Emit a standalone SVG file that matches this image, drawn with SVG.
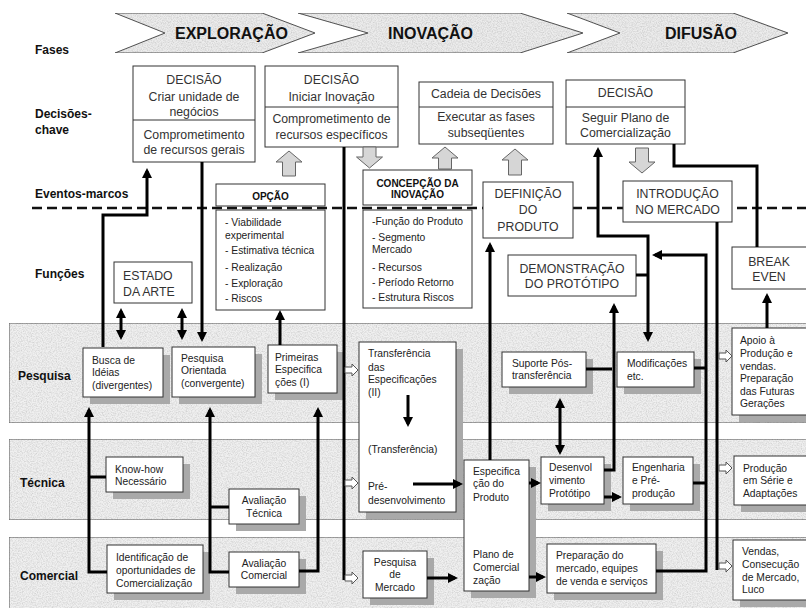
<svg xmlns="http://www.w3.org/2000/svg" width="806" height="608" viewBox="0 0 806 608">
<style>
.bg{fill:#fff}
.chev{fill:#ececec;stroke:#555;stroke-width:1}
.lane{fill:#f0f0f0;stroke:#6e6e6e;stroke-width:1.2}
.box{fill:#fff;stroke:#333;stroke-width:1}
.sh{fill:#a9a9a9}
.t{font-family:"Liberation Sans",Arial,sans-serif;font-size:10.3px;fill:#222}
.tm{font-family:"Liberation Sans",Arial,sans-serif;font-size:12.3px;fill:#333}
.tb{font-family:"Liberation Sans",Arial,sans-serif;font-size:10px;font-weight:bold;fill:#111}
.lbl{font-family:"Liberation Sans",Arial,sans-serif;font-size:12px;font-weight:bold;fill:#111}
.ph{font-family:"Liberation Sans",Arial,sans-serif;font-size:16px;font-weight:bold;fill:#111}
.mid{text-anchor:middle}
.c{fill:none;stroke:#000;stroke-width:3}
.ba{fill:#d6d6d6;stroke:#666;stroke-width:1}
.ha{fill:#fff;stroke:#555;stroke-width:1}
.dash{stroke:#111;stroke-width:2.5;stroke-dasharray:10 5;fill:none}
</style>
<defs>
<marker id="ah" viewBox="0 0 10 10" refX="7" refY="5" markerWidth="10" markerHeight="10" markerUnits="userSpaceOnUse" orient="auto-start-reverse"><path d="M0,0 L10,5 L0,10 Z" fill="#000"/></marker>
<filter id="tex" x="0" y="0" width="1" height="1">
<feTurbulence type="fractalNoise" baseFrequency="0.8" numOctaves="2" seed="7" result="n"/>
<feColorMatrix in="n" type="matrix" values="0 0 0 0 0  0 0 0 0 0  0 0 0 0 0  0.55 0 0 0 -0.2" result="a"/>
<feComposite in="a" in2="SourceGraphic" operator="in" result="s"/>
<feMerge><feMergeNode in="SourceGraphic"/><feMergeNode in="s"/></feMerge>
</filter>
</defs>
<rect class="bg" x="0" y="0" width="806" height="608"/>

<g id="phases">
<path class="chev" filter="url(#tex)" d="M115,13 L262,13 L315,33 L262,53 L115,53 L165,33 Z"/>
<path class="chev" filter="url(#tex)" d="M298,13 L520,13 L583,33 L520,53 L298,53 L368,33 Z"/>
<path class="chev" filter="url(#tex)" d="M567,13 L733,13 L788,33 L733,53 L567,53 L620,33 Z"/>
<text class="ph" x="175" y="39">EXPLORAÇÃO</text>
<text class="ph" x="388" y="39">INOVAÇÃO</text>
<text class="ph" x="665" y="39">DIFUSÃO</text>
</g>

<g id="row-labels">
<text class="lbl" x="35" y="54">Fases</text>
<text class="lbl" x="35" y="118">Decisões-</text>
<text class="lbl" x="35" y="134">chave</text>
<text class="lbl" x="35" y="198">Eventos-marcos</text>
<text class="lbl" x="35" y="278">Funções</text>
</g>

<line class="dash" x1="32" y1="208" x2="806" y2="208"/>

<g id="lanes">
<rect class="lane" filter="url(#tex)" x="9" y="323" width="800" height="100"/>
<rect class="lane" filter="url(#tex)" x="9" y="439" width="800" height="81"/>
<rect class="lane" filter="url(#tex)" x="9" y="537" width="800" height="72"/>
<text class="lbl" x="18" y="380">Pesquisa</text>
<text class="lbl" x="20" y="487">Técnica</text>
<text class="lbl" x="20" y="580">Comercial</text>
</g>

<g id="dec1"><rect class="box" x="133" y="66" width="122" height="96"/><line x1="133" y1="120" x2="255" y2="120" stroke="#333"/>
<text class="tm mid" x="194" y="84">DECISÃO</text><text class="tm mid" x="194" y="101">Criar unidade de</text><text class="tm mid" x="194" y="116">negócios</text>
<text class="tm mid" x="194" y="139">Comprometimento</text><text class="tm mid" x="194" y="154">de recursos gerais</text></g>

<g id="dec2"><rect class="box" x="265" y="66" width="133" height="81"/><line x1="265" y1="107" x2="398" y2="107" stroke="#333"/>
<text class="tm mid" x="331.5" y="84">DECISÃO</text><text class="tm mid" x="331.5" y="101">Iniciar Inovação</text>
<text class="tm mid" x="331.5" y="123">Comprometimento de</text><text class="tm mid" x="331.5" y="139">recursos específicos</text></g>

<g id="dec3"><rect class="box" x="419" y="82" width="134" height="62"/><line x1="419" y1="107" x2="553" y2="107" stroke="#333"/>
<text class="tm mid" x="486" y="98">Cadeia de Decisões</text>
<text class="tm mid" x="486" y="121">Executar as fases</text><text class="tm mid" x="486" y="137">subseqüentes</text></g>

<g id="dec4"><rect class="box" x="566" y="80" width="119" height="64"/><line x1="566" y1="107" x2="685" y2="107" stroke="#333"/>
<text class="tm mid" x="625.5" y="97">DECISÃO</text>
<text class="tm mid" x="625.5" y="122">Seguir Plano de</text><text class="tm mid" x="625.5" y="137">Comercialização</text></g>

<g id="block-arrows">
<path class="ba" d="M289,151 L302,162 L295.5,162 L295.5,176 L282.5,176 L282.5,162 L276,162 Z"/>
<path class="ba" d="M369.5,168 L382.5,157 L376,157 L376,147 L363,147 L363,157 L356.5,157 Z"/>
<path class="ba" d="M445,147 L458,158 L451.5,158 L451.5,169 L438.5,169 L438.5,158 L432,158 Z"/>
<path class="ba" d="M515,149 L528,160 L521.5,160 L521.5,175 L508.5,175 L508.5,160 L502,160 Z"/>
<path class="ba" d="M642,173 L655,162 L648.5,162 L648.5,148 L635.5,148 L635.5,162 L629,162 Z"/>
</g>

<g id="opcao"><rect class="box" x="216" y="184" width="109" height="22"/><text class="tb mid" x="270.5" y="200">OPÇÃO</text>
<rect class="box" x="216" y="210" width="109" height="100"/>
<text class="t" x="225" y="226">- Viabilidade</text><text class="t" x="225" y="239">experimental</text><text class="t" x="225" y="254">- Estimativa técnica</text><text class="t" x="225" y="271">- Realização</text><text class="t" x="225" y="287">- Exploração</text><text class="t" x="225" y="302">- Riscos</text></g>

<g id="concepcao"><rect class="box" x="363" y="170" width="109" height="35"/><text class="tb mid" x="417.5" y="187">CONCEPÇÃO DA</text><text class="tb mid" x="417.5" y="198">INOVAÇÃO</text>
<rect class="box" x="363" y="210" width="109" height="98"/>
<text class="t" x="372" y="225">-Função do Produto</text><text class="t" x="372" y="241">- Segmento</text><text class="t" x="372" y="253">Mercado</text><text class="t" x="372" y="271">- Recursos</text><text class="t" x="372" y="286">- Período Retorno</text><text class="t" x="372" y="301">- Estrutura Riscos</text></g>

<g id="definicao"><rect class="box" x="483" y="182" width="90" height="56"/><text class="tm mid" x="528" y="197.5">DEFINIÇÃO</text><text class="tm mid" x="528" y="213.5">DO</text><text class="tm mid" x="528" y="230.5">PRODUTO</text></g>
<g id="introducao"><rect class="box" x="623" y="181" width="109" height="41"/><text class="tm mid" x="677.5" y="197.5">INTRODUÇÃO</text><text class="tm mid" x="677.5" y="213.5">NO MERCADO</text></g>
<g id="demonstracao"><rect class="box" x="508" y="255" width="128" height="41"/><text class="tm mid" x="572" y="272.5">DEMONSTRAÇÃO</text><text class="tm mid" x="572" y="287.5">DO PROTÓTIPO</text></g>
<g id="breakeven"><rect class="box" x="732" y="247" width="80" height="42"/><text class="tm mid" x="769" y="265.5">BREAK</text><text class="tm mid" x="769" y="280.5">EVEN</text></g>
<g id="estado"><rect class="box" x="114" y="262" width="78" height="41"/><text class="tm" x="123" y="279.5">ESTADO</text><text class="tm" x="123" y="295.5">DA ARTE</text></g>

<g id="busca"><rect class="sh" x="90" y="355" width="80" height="49"/><rect class="box" x="83" y="348" width="80" height="49"/>
<text class="t" x="92" y="364">Busca de</text><text class="t" x="92" y="376">Idéias</text><text class="t" x="92" y="389">(divergentes)</text></g>
<g id="pesq-orientada"><rect class="sh" x="179" y="354" width="83" height="50"/><rect class="box" x="172" y="347" width="83" height="50"/>
<text class="t" x="181" y="362">Pesquisa</text><text class="t" x="181" y="374">Orientada</text><text class="t" x="181" y="387">(convergente)</text></g>
<g id="primeiras"><rect class="sh" x="275" y="352" width="69" height="48"/><rect class="box" x="268" y="345" width="69" height="48"/>
<text class="t" x="275" y="361">Primeiras</text><text class="t" x="275" y="373">Especifica</text><text class="t" x="275" y="386">ções (I)</text></g>
<g id="transferencia"><rect class="sh" x="366" y="349" width="97" height="170"/><rect class="box" x="359" y="342" width="97" height="170"/>
<text class="t" x="368" y="357">Transferência</text><text class="t" x="368" y="371">das</text><text class="t" x="368" y="383">Especificações</text><text class="t" x="368" y="396">(II)</text>
<text class="t" x="368" y="453">(Transferência)</text><text class="t" x="368" y="490">Pré-</text><text class="t" x="368" y="504">desenvolvimento</text></g>
<g id="suporte"><rect class="sh" x="509" y="359" width="84" height="35"/><rect class="box" x="502" y="352" width="84" height="35"/>
<text class="t" x="512" y="367">Suporte Pós-</text><text class="t" x="512" y="379">transferência</text></g>
<g id="modificacoes"><rect class="sh" x="624" y="359" width="77" height="35"/><rect class="box" x="617" y="352" width="77" height="35"/>
<text class="t" x="627" y="367">Modificações</text><text class="t" x="627" y="380">etc.</text></g>
<g id="apoio"><rect class="sh" x="739" y="335" width="80" height="87"/><rect class="box" x="732" y="328" width="80" height="87"/>
<text class="t" x="740" y="344">Apoio à</text><text class="t" x="740" y="357">Produção e</text><text class="t" x="740" y="370">vendas.</text><text class="t" x="740" y="382">Preparação</text><text class="t" x="740" y="395">das Futuras</text><text class="t" x="740" y="407">Gerações</text></g>

<g id="knowhow"><rect class="sh" x="113" y="464" width="77" height="35"/><rect class="box" x="106" y="457" width="77" height="35"/>
<text class="t" x="115" y="473">Know-how</text><text class="t" x="115" y="485">Necessário</text></g>
<g id="aval-tecnica"><rect class="sh" x="236" y="496" width="70" height="35"/><rect class="box" x="229" y="489" width="70" height="35"/>
<text class="t mid" x="264" y="504">Avaliação</text><text class="t mid" x="264" y="517">Técnica</text></g>
<g id="especificacao"><rect class="sh" x="471" y="467" width="65" height="131"/><rect class="box" x="464" y="460" width="65" height="131"/>
<text class="t" x="473" y="475">Especifica</text><text class="t" x="473" y="487">ção do</text><text class="t" x="473" y="501">Produto</text>
<text class="t" x="473" y="558">Plano de</text><text class="t" x="473" y="571">Comercial</text><text class="t" x="473" y="584">zação</text></g>
<g id="desenvolvimento"><rect class="sh" x="548" y="464" width="63" height="47"/><rect class="box" x="541" y="457" width="63" height="47"/>
<text class="t" x="549" y="471">Desenvol</text><text class="t" x="549" y="484">vimento</text><text class="t" x="549" y="497">Protótipo</text></g>
<g id="engenharia"><rect class="sh" x="630" y="464" width="70" height="47"/><rect class="box" x="623" y="457" width="70" height="47"/>
<text class="t" x="632" y="471">Engenharia</text><text class="t" x="632" y="484">e Pré-</text><text class="t" x="632" y="497">produção</text></g>
<g id="producao"><rect class="sh" x="741" y="463" width="80" height="49"/><rect class="box" x="734" y="456" width="80" height="49"/>
<text class="t" x="743" y="472">Produção</text><text class="t" x="743" y="484">em Série e</text><text class="t" x="743" y="497">Adaptações</text></g>

<g id="identificacao"><rect class="sh" x="114" y="552" width="96" height="48"/><rect class="box" x="107" y="545" width="96" height="48"/>
<text class="t" x="116" y="561">Identificação de</text><text class="t" x="116" y="574">oportunidades de</text><text class="t" x="116" y="587">Comercialização</text></g>
<g id="aval-comercial"><rect class="sh" x="236" y="559" width="70" height="35"/><rect class="box" x="229" y="552" width="70" height="35"/>
<text class="t mid" x="264" y="567">Avaliação</text><text class="t mid" x="264" y="579">Comercial</text></g>
<g id="pesq-mercado"><rect class="sh" x="370" y="558" width="64" height="47"/><rect class="box" x="363" y="551" width="64" height="47"/>
<text class="t mid" x="395" y="566">Pesquisa</text><text class="t mid" x="395" y="578">de</text><text class="t mid" x="395" y="591">Mercado</text></g>
<g id="preparacao"><rect class="sh" x="554" y="551" width="109" height="49"/><rect class="box" x="547" y="544" width="109" height="49"/>
<text class="t" x="556" y="559">Preparação do</text><text class="t" x="556" y="572">mercado, equipes</text><text class="t" x="556" y="585">de venda e serviços</text></g>
<g id="vendas"><rect class="sh" x="740" y="547" width="80" height="60"/><rect class="box" x="733" y="540" width="80" height="60"/>
<text class="t" x="742" y="555">Vendas,</text><text class="t" x="742" y="568">Consecução</text><text class="t" x="742" y="581">de Mercado,</text><text class="t" x="742" y="593">Luco</text></g>

<g id="connectors">
<path class="c" d="M107,572 H89 V410" marker-end="url(#ah)"/>
<path class="c" d="M89,477 H106"/>
<path class="c" d="M103,347 V215 H147 V171" marker-end="url(#ah)"/>
<path class="c" d="M121,311 V337" marker-start="url(#ah)" marker-end="url(#ah)"/>
<path class="c" d="M182,311 V337" marker-start="url(#ah)" marker-end="url(#ah)"/>
<path class="c" d="M202,162 V339" marker-end="url(#ah)"/>
<path class="c" d="M229,572 H210 V410" marker-end="url(#ah)"/>
<path class="c" d="M210,507 H229"/>
<path class="c" d="M280,345 V313" marker-end="url(#ah)"/>
<path class="c" d="M299,571 H318 V410" marker-end="url(#ah)"/>
<path class="c" d="M344,147 V580"/>
<path class="c" d="M408,395 V424" marker-end="url(#ah)"/>
<path class="c" d="M413,484 H460" marker-end="url(#ah)"/>
<path class="c" d="M427,578 H455" marker-end="url(#ah)"/>
<path class="c" d="M490,460 V245" marker-end="url(#ah)"/>
<path class="c" d="M529,483 H538" marker-end="url(#ah)"/>
<path class="c" d="M529,577 H543" marker-end="url(#ah)"/>
<path class="c" d="M560,401 V452" marker-start="url(#ah)" marker-end="url(#ah)"/>
<path class="c" d="M604,497 H619" marker-end="url(#ah)"/>
<path class="c" d="M604,470 H614 V306" marker-end="url(#ah)"/>
<path class="c" d="M586,369 H612"/>
<path class="c" d="M598,150 V236 H648 V339" marker-start="url(#ah)" marker-end="url(#ah)"/>
<path class="c" d="M636,275 H648"/>
<path class="c" d="M656,571 H706 V255 H655" marker-end="url(#ah)"/>
<path class="c" d="M694,368 H706"/>
<path class="c" d="M693,483 H706"/>
<path class="c" d="M717,222 V570"/>
<path class="c" d="M674,144 V166 H757 V247"/>
<path class="c" d="M767,328 V296" marker-end="url(#ah)"/>
<path class="ha" d="M345,367 H352 V364 L358,370 L352,376 V373 H345 Z"/>
<path class="ha" d="M345,480 H352 V477 L358,483 L352,489 V486 H345 Z"/>
<path class="ha" d="M345,575 H352 V572 L358,578 L352,584 V581 H345 Z"/>
<path class="ha" d="M719,353 H726 V350 L732,356 L726,362 V359 H719 Z"/>
<path class="ha" d="M719,465 H726 V462 L732,468 L726,474 V471 H719 Z"/>
<path class="ha" d="M719,563 H726 V560 L732,566 L726,572 V569 H719 Z"/>
</g>
</svg>
